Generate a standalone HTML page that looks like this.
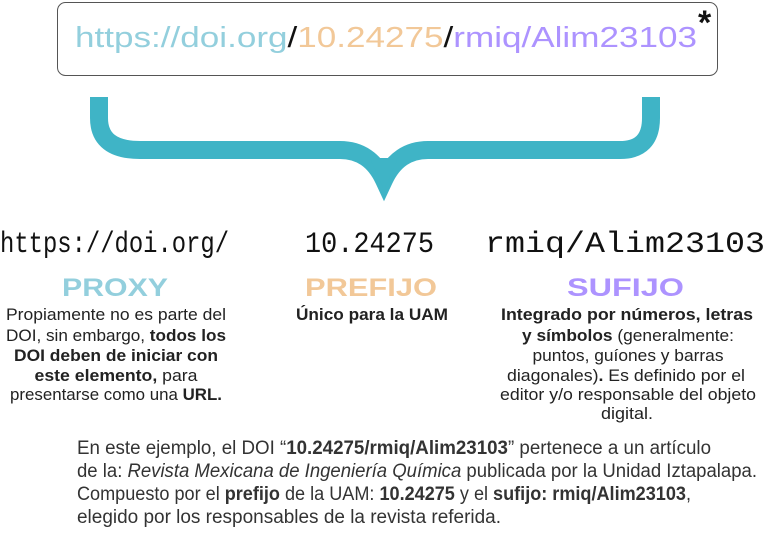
<!DOCTYPE html>
<html><head><meta charset="utf-8"><style>
html,body{margin:0;padding:0;background:#fff;width:768px;height:547px;overflow:hidden}
svg{display:block}
.n{font-family:"Liberation Sans Narrow","Liberation Sans",sans-serif}
</style></head><body>
<svg width="768" height="547" viewBox="0 0 768 547" xmlns="http://www.w3.org/2000/svg">
<rect x="57.5" y="2.5" width="660" height="73" rx="8" fill="#fff" stroke="#555" stroke-width="1"/>
<text x="75" y="47" class="n" font-size="29" textLength="622" lengthAdjust="spacingAndGlyphs"><tspan fill="#93cfdd">https://doi.org</tspan><tspan fill="#111">/</tspan><tspan fill="#f2c898">10.24275</tspan><tspan fill="#111">/</tspan><tspan fill="#ad93ff">rmiq/Alim23103</tspan></text>
<text x="698" y="34" font-family="Liberation Sans,sans-serif" font-weight="bold" font-size="34" fill="#111">*</text>
<path d="M99 97 L99 118 Q99 150 140 150 L340 150 Q370 150 384 180 Q398 150 428 150 L620 150 Q651 150 651 118 L651 97" fill="none" stroke="#3fb4c6" stroke-width="18"/>
<path d="M370 158 L384 190 L398 158 Z" fill="#3fb4c6"/>
<g font-family="Liberation Mono,monospace" font-size="30" fill="#111">
<text x="0" y="252" textLength="229" lengthAdjust="spacingAndGlyphs">https://doi.org/</text>
<text x="305" y="252" textLength="129" lengthAdjust="spacingAndGlyphs">10.24275</text>
<text x="485" y="252" textLength="280" lengthAdjust="spacingAndGlyphs">rmiq/Alim23103</text>
</g>
<g font-family="Liberation Sans,sans-serif" font-weight="bold" font-size="25">
<text x="62" y="296" fill="#93cfdd" textLength="106" lengthAdjust="spacingAndGlyphs">PROXY</text>
<text x="305" y="296" fill="#f2c898" textLength="132" lengthAdjust="spacingAndGlyphs">PREFIJO</text>
<text x="567" y="296" fill="#ad93ff" textLength="117" lengthAdjust="spacingAndGlyphs">SUFIJO</text>
</g>
<g class="n" font-size="17" fill="#222" text-anchor="middle">
<text x="116" y="320" textLength="220" lengthAdjust="spacingAndGlyphs">Propiamente no es parte del</text>
<text x="116" y="341" textLength="220" lengthAdjust="spacingAndGlyphs">DOI, sin embargo, <tspan font-weight="bold">todos los</tspan></text>
<text x="116" y="361" textLength="204" lengthAdjust="spacingAndGlyphs" font-weight="bold">DOI deben de iniciar con</text>
<text x="116" y="381" textLength="163" lengthAdjust="spacingAndGlyphs"><tspan font-weight="bold">este elemento,</tspan> para</text>
<text x="116" y="400" textLength="212" lengthAdjust="spacingAndGlyphs">presentarse como una <tspan font-weight="bold">URL.</tspan></text>
<text x="372" y="320" textLength="152" lengthAdjust="spacingAndGlyphs" font-weight="bold">Único para la UAM</text>
<text x="627" y="320" textLength="252" lengthAdjust="spacingAndGlyphs" font-weight="bold">Integrado por números, letras</text>
<text x="628" y="341" textLength="212" lengthAdjust="spacingAndGlyphs"><tspan font-weight="bold">y símbolos</tspan> (generalmente:</text>
<text x="628" y="361" textLength="191" lengthAdjust="spacingAndGlyphs">puntos, guíones y barras</text>
<text x="626" y="381" textLength="238" lengthAdjust="spacingAndGlyphs">diagonales)<tspan font-weight="bold">.</tspan> Es definido por el</text>
<text x="628" y="400" textLength="256" lengthAdjust="spacingAndGlyphs">editor y/o responsable del objeto</text>
<text x="627" y="419" textLength="52" lengthAdjust="spacingAndGlyphs">digital.</text>
</g>
<g class="n" font-size="19" fill="#333">
<text x="77" y="454" textLength="634" lengthAdjust="spacingAndGlyphs">En este ejemplo, el DOI “<tspan font-weight="bold">10.24275/rmiq/Alim23103</tspan>” pertenece a un artículo</text>
<text x="77" y="477" textLength="680" lengthAdjust="spacingAndGlyphs">de la: <tspan font-style="italic">Revista Mexicana de Ingeniería Química</tspan> publicada por la Unidad Iztapalapa.</text>
<text x="77" y="500" textLength="614" lengthAdjust="spacingAndGlyphs">Compuesto por el <tspan font-weight="bold">prefijo</tspan> de la UAM: <tspan font-weight="bold">10.24275</tspan> y el <tspan font-weight="bold">sufijo: rmiq/Alim23103</tspan>,</text>
<text x="77" y="523" textLength="424" lengthAdjust="spacingAndGlyphs">elegido por los responsables de la revista referida.</text>
</g>
</svg>
</body></html>
